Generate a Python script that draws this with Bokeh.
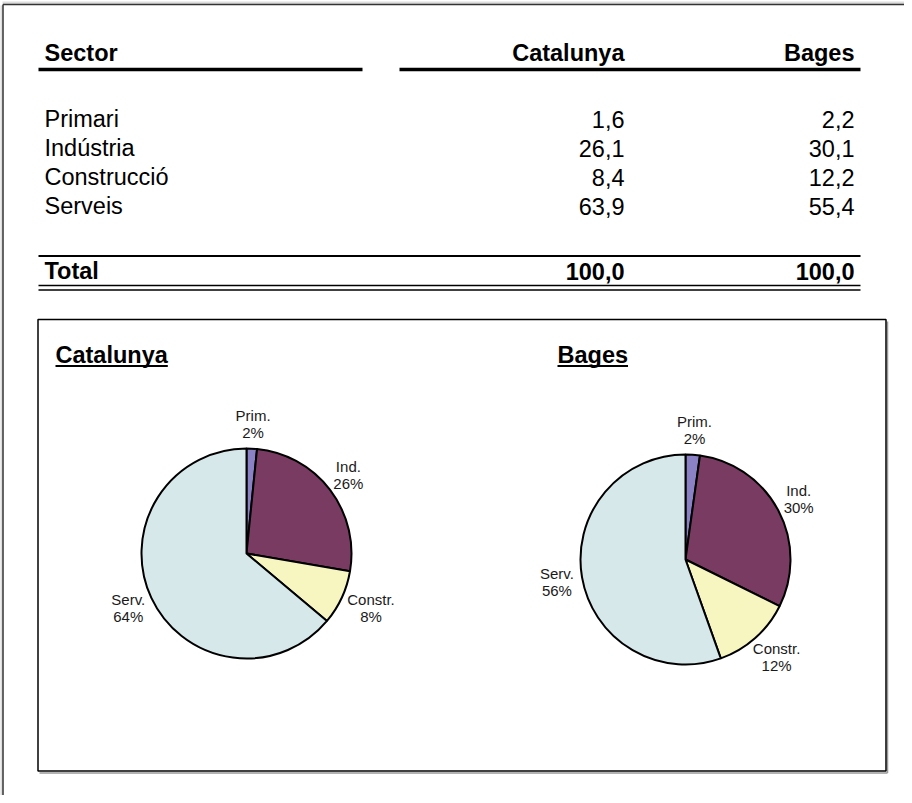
import numpy as np
from bokeh.plotting import figure
from bokeh.models import Range1d, ColumnDataSource
from bokeh.core.properties import value
from bokeh.embed import file_html
from bokeh.resources import INLINE

# ---------------- data ----------------
header = ["Sector", "Catalunya", "Bages"]
sectors = ["Primari", "Indústria", "Construcció", "Serveis"]
short_labels = ["Prim.", "Ind.", "Constr.", "Serv."]
catalunya = [1.6, 26.1, 8.4, 63.9]
bages = [2.2, 30.1, 12.2, 55.4]
total_label = "Total"
total_cat = 100.0
total_bages = 100.0
pct_cat = ["2%", "26%", "8%", "64%"]
pct_bages = ["2%", "30%", "12%", "56%"]
colors = ["#8A82C4", "#7A3B63", "#F7F6C1", "#D6E8EA"]

FONT = value("Liberation Sans")
FS = "23.5px"
LFS = 15  # pie label font size (px)

W, H = 904, 795
p = figure(width=W, height=H, x_range=Range1d(0, W), y_range=Range1d(0, H),
           output_backend="svg", toolbar_location=None, min_border=0)
p.axis.visible = False
p.grid.visible = False
p.outline_line_color = None
p.background_fill_color = "white"
p.border_fill_color = "white"


def Y(py):
    return H - py


def fmt(v):
    return f"{v:.1f}".replace(".", ",")


# approximate Arial advance widths (per 1000 em)
BOLD_W = {"C": 722, "a": 556, "t": 333, "l": 278, "u": 611, "n": 611, "y": 556,
          "B": 722, "g": 611, "e": 556, "s": 556}
REG_W = {"P": 667, "r": 333, "i": 222, "m": 833, ".": 278, "I": 278, "n": 556, "d": 556,
         "C": 722, "o": 556, "s": 500, "t": 278, "S": 667, "e": 556, "v": 500, "%": 889}


def text_width(s, size, table):
    return sum(table.get(c, 556) for c in s) * size / 1000.0


def tmid(**kw):
    base = dict(text_font=FONT, text_font_size=FS, text_baseline="middle", text_color="black")
    base.update(kw)
    return base


# ---------------- outer page frame ----------------
p.segment(x0=[0.6], y0=[Y(5)], x1=[0.6], y1=[Y(H + 2)], line_color="#dddddd", line_width=3)
p.segment(x0=[2], y0=[Y(2.6)], x1=[W + 2], y1=[Y(2.6)], line_color="#dddddd", line_width=3)
p.segment(x0=[2.5, 2.5], y0=[Y(4), Y(4)], x1=[2.5, W + 2], y1=[Y(H + 2), Y(4)],
          line_color="#333333", line_width=1.5)

# ---------------- table ----------------
col_x = [44, 624, 854]
header_mid = 52.5
p.text(x=[col_x[0]], y=[Y(header_mid)], text=[header[0]],
       **tmid(text_font_style="bold", text_align="left"))
p.text(x=col_x[1:], y=[Y(header_mid)] * 2, text=header[1:],
       **tmid(text_font_style="bold", text_align="right"))
p.segment(x0=[38, 399], y0=[Y(69)] * 2, x1=[362, 860], y1=[Y(69)] * 2,
          line_color="black", line_width=3.5)

row_mid = [118.5 + 29 * i for i in range(len(sectors))]
p.text(x=[col_x[0]] * len(sectors), y=[Y(b) for b in row_mid], text=sectors,
       **tmid(text_align="left"))
p.text(x=[col_x[1]] * len(sectors), y=[Y(b) for b in row_mid], text=[fmt(v) for v in catalunya],
       **tmid(text_align="right"))
p.text(x=[col_x[2]] * len(sectors), y=[Y(b) for b in row_mid], text=[fmt(v) for v in bages],
       **tmid(text_align="right"))

total_mid = 270.5
p.segment(x0=[38], y0=[Y(255.5)], x1=[860], y1=[Y(255.5)], line_color="black", line_width=2)
p.text(x=[col_x[0]], y=[Y(total_mid)], text=[total_label],
       **tmid(text_font_style="bold", text_align="left"))
p.text(x=col_x[1:], y=[Y(total_mid)] * 2, text=[fmt(total_cat), fmt(total_bages)],
       **tmid(text_font_style="bold", text_align="right"))
p.segment(x0=[38, 38], y0=[Y(285), Y(289.5)], x1=[860, 860], y1=[Y(285), Y(289.5)],
          line_color="black", line_width=1.6)

# ---------------- chart box ----------------
p.segment(x0=[39, 887], y0=[Y(772.5), Y(321)], x1=[887, 887], y1=[Y(772.5), Y(772.5)],
          line_color="#999999", line_width=1.5)
p.quad(left=[37.5], right=[885.5], top=[Y(319)], bottom=[Y(770.5)], fill_color="white",
       line_color="black", line_width=1.5)

titles = ["Catalunya", "Bages"]
title_x = [55, 557]
title_mid = 354
p.text(x=title_x, y=[Y(title_mid)] * 2, text=titles,
       **tmid(text_font_style="bold", text_align="left"))
p.segment(x0=title_x, y0=[Y(365.5)] * 2,
          x1=[x + text_width(t, 23.5, BOLD_W) for x, t in zip(title_x, titles)],
          y1=[Y(365.5)] * 2, line_color="black", line_width=2)


# ---------------- pies ----------------
def pie(vals, pcts, cx, cy, r):
    vals = np.array(vals, dtype=float)
    frac = vals / vals.sum()
    ends = np.cumsum(frac) * 2 * np.pi
    starts = ends - frac * 2 * np.pi
    src = ColumnDataSource(dict(start=np.pi / 2 - ends, end=np.pi / 2 - starts, color=colors))
    p.wedge(x=cx, y=Y(cy), radius=r, start_angle="start", end_angle="end", direction="anticlock",
            fill_color="color", line_color="black", line_width=2, source=src)
    mids = (starts + ends) / 2
    ux = np.sin(mids)
    uy = np.cos(mids)  # upward component
    d = r + 8
    widths = np.array([max(text_width(a, LFS, REG_W), text_width(b, LFS, REG_W))
                       for a, b in zip(short_labels, pcts)])
    half_h = 17
    lx = cx + d * ux + ux * widths / 2
    ly = Y(cy) + d * uy + uy * half_h
    p.text(x=lx, y=ly + 8.5, text=short_labels, text_font=FONT, text_font_size=f"{LFS}px",
           text_align="center", text_baseline="middle", text_color="#1a1a1a")
    p.text(x=lx, y=ly - 8.5, text=pcts, text_font=FONT, text_font_size=f"{LFS}px",
           text_align="center", text_baseline="middle", text_color="#1a1a1a")


pie(catalunya, pct_cat, 246, 553, 105)
pie(bages, pct_bages, 685, 559, 105)

open("out.html", "w").write(file_html(p, INLINE))
